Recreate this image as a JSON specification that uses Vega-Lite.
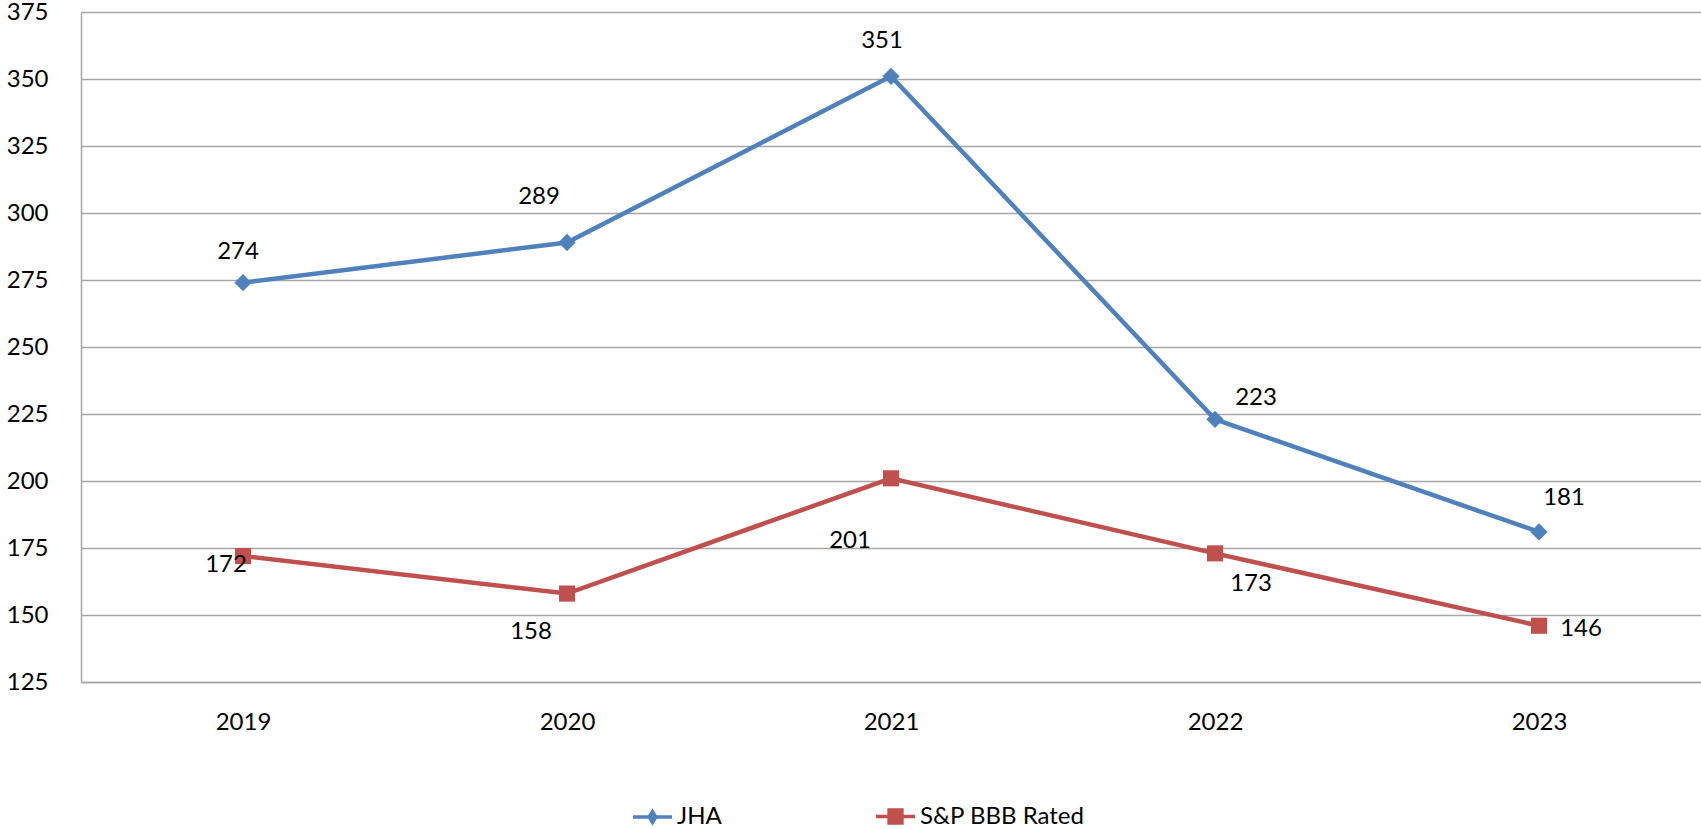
{
  "$schema": "https://vega.github.io/schema/vega-lite/v6.json",
  "width": 1620,
  "height": 670,
  "autosize": {"type": "none"},
  "padding": {"left": 81, "top": 12, "right": 0, "bottom": 147},
  "background": "white",
  "config": {
    "view": {"stroke": null},
    "font": "Lato",
    "axis": {"labelFont": "Lato", "labelFontSize": 24, "labelColor": "#000000", "title": null}
  },
  "data": {
    "values": [
      {"year": "2019", "series": "JHA", "value": 274},
      {"year": "2020", "series": "JHA", "value": 289},
      {"year": "2021", "series": "JHA", "value": 351},
      {"year": "2022", "series": "JHA", "value": 223},
      {"year": "2023", "series": "JHA", "value": 181},
      {"year": "2019", "series": "S&P BBB Rated", "value": 172},
      {"year": "2020", "series": "S&P BBB Rated", "value": 158},
      {"year": "2021", "series": "S&P BBB Rated", "value": 201},
      {"year": "2022", "series": "S&P BBB Rated", "value": 173},
      {"year": "2023", "series": "S&P BBB Rated", "value": 146}
    ]
  },
  "encoding": {
    "x": {
      "field": "year", "type": "nominal",
      "scale": {"type": "point", "padding": 0.5},
      "axis": {"labelAngle": 0, "tickSize": 0, "labelPadding": 28, "domainColor": "#A6A6A6", "domainWidth": 1.5, "grid": false}
    },
    "y": {
      "field": "value", "type": "quantitative",
      "scale": {"domain": [125, 375], "nice": false, "zero": false},
      "axis": {"values": [125, 150, 175, 200, 225, 250, 275, 300, 325, 350, 375], "tickSize": 0, "labelPadding": 33, "domainColor": "#A6A6A6", "domainWidth": 1.5, "grid": true, "gridColor": "#A6A6A6", "gridWidth": 1.5}
    }
  },
  "layer": [
    {
      "mark": {"type": "line", "strokeWidth": 4.5},
      "encoding": {
        "color": {
          "field": "series", "type": "nominal",
          "scale": {"domain": ["JHA", "S&P BBB Rated"], "range": ["#4F81BD", "#C0504D"]},
          "legend": {
            "orient": "none", "legendX": 550, "legendY": 783, "direction": "horizontal", "title": null,
            "symbolSize": 1521, "labelFontSize": 24, "labelFont": "Lato", "labelColor": "#000000", "labelOffset": 3, "labelLimit": 0, "columnPadding": 147,
            "encode": {
              "symbols": {
                "update": {
                  "shape": {"signal": "datum.value === 'JHA' ? 'M-1,0H1M0,-0.28L0.17,0L0,0.28L-0.17,0Z' : 'M-1,0H1M-0.33,-0.33H0.33V0.33H-0.33Z'"},
                  "stroke": {"signal": "datum.value === 'JHA' ? '#4F81BD' : '#C0504D'"},
                  "fill": {"signal": "datum.value === 'JHA' ? '#4F81BD' : '#C0504D'"},
                  "strokeWidth": {"value": 3.5},
                  "size": {"value": 1521},
                  "opacity": {"value": 1}
                }
              }
            }
          }
        }
      }
    },
    {
      "transform": [{"filter": "datum.series === 'JHA'"}],
      "mark": {"type": "point", "filled": true, "opacity": 1, "shape": "diamond", "size": 300, "color": "#4F81BD"}
    },
    {
      "transform": [{"filter": "datum.series === 'S&P BBB Rated'"}],
      "mark": {"type": "point", "filled": true, "opacity": 1, "shape": "square", "size": 260, "color": "#C0504D"}
    },
    {"transform": [{"filter": "datum.series === 'JHA' && datum.year === '2019'"}], "mark": {"type": "text", "fontSize": 24, "font": "Lato", "color": "#000000", "baseline": "middle", "dx": -5, "dy": -31}, "encoding": {"text": {"field": "value", "type": "quantitative"}}},
    {"transform": [{"filter": "datum.series === 'JHA' && datum.year === '2020'"}], "mark": {"type": "text", "fontSize": 24, "font": "Lato", "color": "#000000", "baseline": "middle", "dx": -28, "dy": -45}, "encoding": {"text": {"field": "value", "type": "quantitative"}}},
    {"transform": [{"filter": "datum.series === 'JHA' && datum.year === '2021'"}], "mark": {"type": "text", "fontSize": 24, "font": "Lato", "color": "#000000", "baseline": "middle", "dx": -9, "dy": -35}, "encoding": {"text": {"field": "value", "type": "quantitative"}}},
    {"transform": [{"filter": "datum.series === 'JHA' && datum.year === '2022'"}], "mark": {"type": "text", "fontSize": 24, "font": "Lato", "color": "#000000", "baseline": "middle", "dx": 41, "dy": -21}, "encoding": {"text": {"field": "value", "type": "quantitative"}}},
    {"transform": [{"filter": "datum.series === 'JHA' && datum.year === '2023'"}], "mark": {"type": "text", "fontSize": 24, "font": "Lato", "color": "#000000", "baseline": "middle", "dx": 25, "dy": -34}, "encoding": {"text": {"field": "value", "type": "quantitative"}}},
    {"transform": [{"filter": "datum.series === 'S&P BBB Rated' && datum.year === '2019'"}], "mark": {"type": "text", "fontSize": 24, "font": "Lato", "color": "#000000", "baseline": "middle", "dx": -17, "dy": 9}, "encoding": {"text": {"field": "value", "type": "quantitative"}}},
    {"transform": [{"filter": "datum.series === 'S&P BBB Rated' && datum.year === '2020'"}], "mark": {"type": "text", "fontSize": 24, "font": "Lato", "color": "#000000", "baseline": "middle", "dx": -36, "dy": 38}, "encoding": {"text": {"field": "value", "type": "quantitative"}}},
    {"transform": [{"filter": "datum.series === 'S&P BBB Rated' && datum.year === '2021'"}], "mark": {"type": "text", "fontSize": 24, "font": "Lato", "color": "#000000", "baseline": "middle", "dx": -41, "dy": 63}, "encoding": {"text": {"field": "value", "type": "quantitative"}}},
    {"transform": [{"filter": "datum.series === 'S&P BBB Rated' && datum.year === '2022'"}], "mark": {"type": "text", "fontSize": 24, "font": "Lato", "color": "#000000", "baseline": "middle", "dx": 36, "dy": 31}, "encoding": {"text": {"field": "value", "type": "quantitative"}}},
    {"transform": [{"filter": "datum.series === 'S&P BBB Rated' && datum.year === '2023'"}], "mark": {"type": "text", "fontSize": 24, "font": "Lato", "color": "#000000", "baseline": "middle", "dx": 42, "dy": 3}, "encoding": {"text": {"field": "value", "type": "quantitative"}}}
  ]
}
